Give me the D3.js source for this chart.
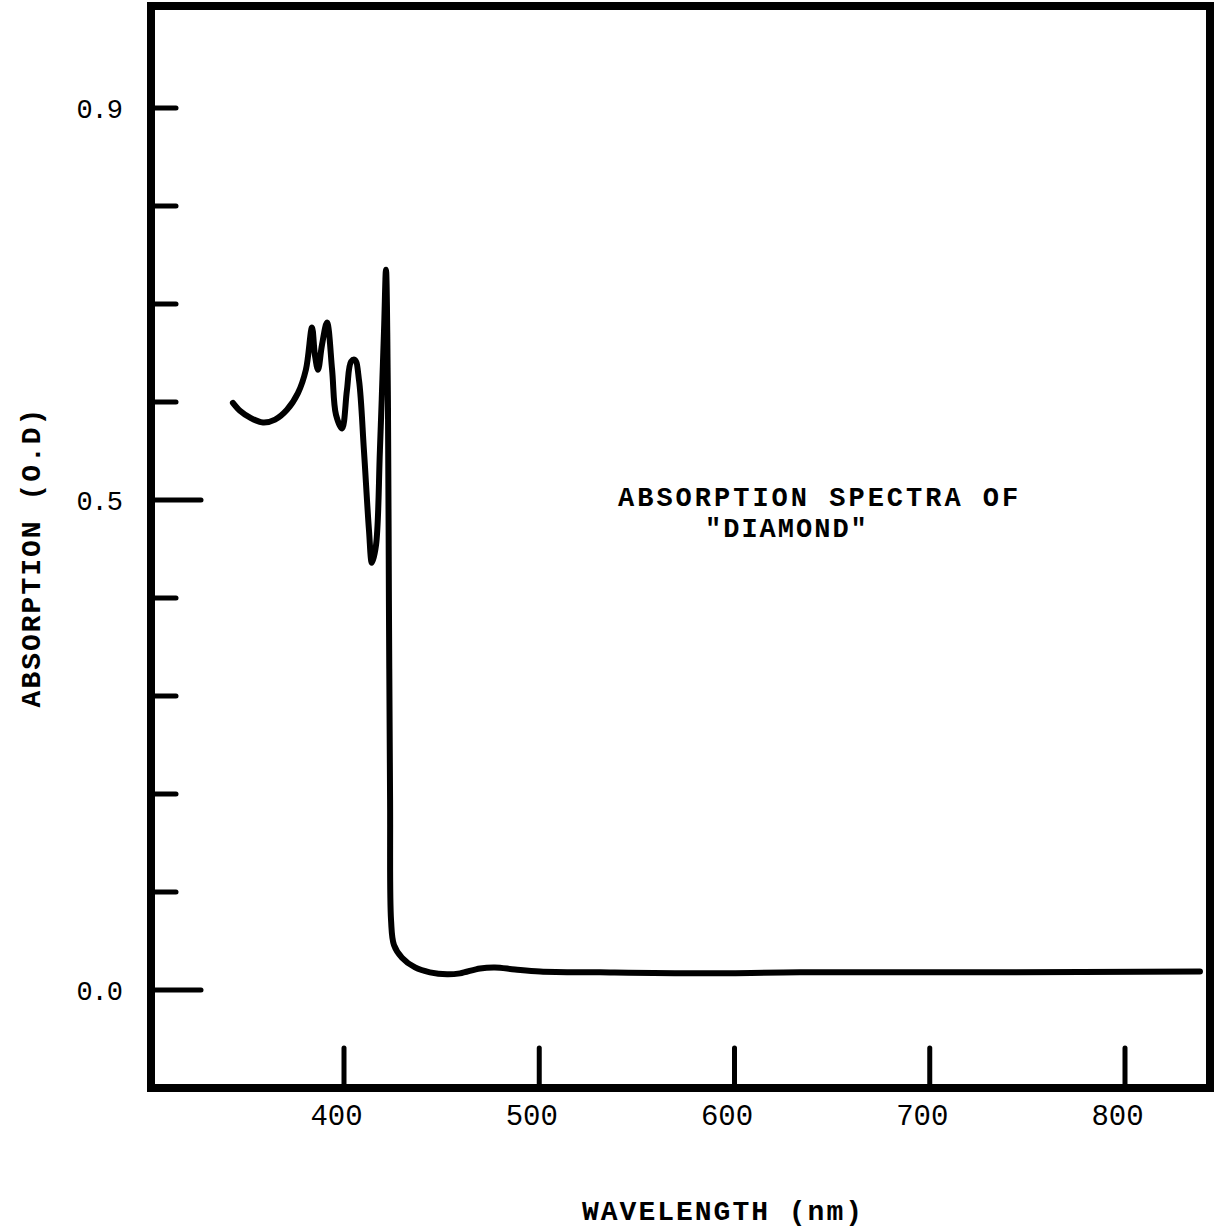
<!DOCTYPE html>
<html>
<head>
<meta charset="utf-8">
<script src="https://cdn.jsdelivr.net/npm/d3@7"></script>
<style>
  html, body { margin: 0; padding: 0; background: #fff; }
  svg text { font-family: 'Liberation Mono', 'DejaVu Sans Mono', monospace; fill: #000; }
</style>
</head>
<body>
<div id="chart"></div>
<script>
'use strict'

// Data
const wavelength = [
  343.1, 346.7, 351.9, 358.5, 364.7, 370.8, 376.4, 380.5, 383.6, 385.1,
  386.7, 388.7, 391.3, 393.9, 395.9, 399.0, 401.5, 403.6, 405.6, 407.7,
  410.2, 412.8, 414.3, 416.4, 418.4, 420.5, 421.5, 422.5, 423.0, 423.6,
  424.1, 425.6, 429.7, 436.4, 444.0, 452.8, 459.4, 469.7, 477.3, 487.6,
  500.4, 531.1, 582.3, 633.5, 736.0, 838.4,
]
const absorption = [
  0.599, 0.591, 0.584, 0.579, 0.582, 0.592, 0.609, 0.633, 0.676, 0.648,
  0.633, 0.658, 0.681, 0.633, 0.587, 0.573, 0.612, 0.641, 0.643, 0.622,
  0.551, 0.469, 0.436, 0.454, 0.551, 0.673, 0.735, 0.602, 0.398, 0.194,
  0.071, 0.046, 0.033, 0.023, 0.018, 0.016, 0.017, 0.022, 0.023, 0.021,
  0.019, 0.018, 0.017, 0.018, 0.018, 0.019,
]

const yTicks = [0, 0.1, 0.2, 0.3, 0.4, 0.5, 0.6, 0.7, 0.8, 0.9]
const yLabels = ['0.0', '0.5', '0.9']
const yLongTicks = [0, 0.5]
const xTicks = [400, 500, 600, 700, 800]

const title = ['ABSORPTION SPECTRA OF', '"DIAMOND"']
const xTitle = 'WAVELENGTH (nm)'
const yTitle = 'ABSORPTION (O.D)'

function draw() {
  const width = 1219
  const height = 1230
  const frame = { left: 151, right: 1210, top: 6, bottom: 1088 }

  const svg = d3
    .select('#chart')
    .append('svg')
    .attr('width', width)
    .attr('height', height)

  // Scales
  const xScale = d3.scaleLinear().domain([400, 800]).range([344, 1125])
  const yScale = d3.scaleLinear().domain([0, 0.9]).range([990, 108])

  // Frame
  svg
    .append('rect')
    .attr('x', frame.left)
    .attr('y', frame.top)
    .attr('width', frame.right - frame.left)
    .attr('height', frame.bottom - frame.top)
    .attr('fill', 'none')
    .attr('stroke', '#000')
    .attr('stroke-width', 8)

  // Y ticks (inside the frame)
  svg
    .append('g')
    .selectAll('line')
    .data(yTicks)
    .join('line')
    .attr('x1', frame.left)
    .attr('x2', (d) => (yLongTicks.includes(d) ? frame.left + 50 : frame.left + 25))
    .attr('y1', (d) => yScale(d))
    .attr('y2', (d) => yScale(d))
    .attr('stroke', '#000')
    .attr('stroke-width', 5)
    .attr('stroke-linecap', 'round')

  const yAxis = d3
    .axisLeft(yScale)
    .tickValues(yLabels.map(Number))
    .tickSize(0)
    .tickPadding(0)
    .tickFormat((d) => d.toFixed(1))

  const yAxisGroup = svg
    .append('g')
    .attr('transform', `translate(${frame.left - 29}, 0)`)
    .call(yAxis)
  yAxisGroup.select('.domain').remove()
  yAxisGroup
    .selectAll('text')
    .style('font-family', "'Liberation Mono', monospace")
    .style('font-size', '27px')
    .style('letter-spacing', '-1px')
    .attr('dy', '0.35em')

  // X ticks (rising from the bottom edge)
  svg
    .append('g')
    .selectAll('line')
    .data(xTicks)
    .join('line')
    .attr('x1', (d) => xScale(d))
    .attr('x2', (d) => xScale(d))
    .attr('y1', frame.bottom)
    .attr('y2', frame.bottom - 40)
    .attr('stroke', '#000')
    .attr('stroke-width', 5)
    .attr('stroke-linecap', 'round')

  const xAxis = d3.axisBottom(xScale).tickValues(xTicks).tickSize(0).tickPadding(0)

  const xAxisGroup = svg
    .append('g')
    .attr('transform', `translate(-8, ${frame.bottom + 37})`)
    .call(xAxis)
  xAxisGroup.select('.domain').remove()
  xAxisGroup
    .selectAll('text')
    .style('font-family', "'Liberation Mono', monospace")
    .style('font-size', '29px')
    .attr('dy', '0')

  // Spectrum line
  const points = wavelength.map((w, i) => [w, absorption[i]])
  const line = d3
    .line()
    .x((d) => xScale(d[0]))
    .y((d) => yScale(d[1]))
    .curve(d3.curveCatmullRom.alpha(0.5))

  svg
    .append('path')
    .datum(points)
    .attr('d', line)
    .attr('fill', 'none')
    .attr('stroke', '#000')
    .attr('stroke-width', 6)
    .attr('stroke-linejoin', 'round')
    .attr('stroke-linecap', 'round')

  // Annotation
  svg
    .append('text')
    .attr('x', 618)
    .attr('y', 506)
    .style('font-size', '27px')
    .style('font-weight', 'bold')
    .style('letter-spacing', '3px')
    .text(title[0])
  svg
    .append('text')
    .attr('x', 705)
    .attr('y', 537)
    .style('font-size', '27px')
    .style('font-weight', 'bold')
    .style('letter-spacing', '2px')
    .text(title[1])

  // Axis titles
  svg
    .append('text')
    .attr('x', 723)
    .attr('y', 1220)
    .attr('text-anchor', 'middle')
    .style('font-size', '28px')
    .style('font-weight', 'bold')
    .style('letter-spacing', '2px')
    .text(xTitle)

  svg
    .append('text')
    .attr('transform', 'translate(40, 557) rotate(-90)')
    .attr('text-anchor', 'middle')
    .style('font-size', '28px')
    .style('font-weight', 'bold')
    .style('letter-spacing', '2px')
    .text(yTitle)
}

draw()
</script>
</body>
</html>
